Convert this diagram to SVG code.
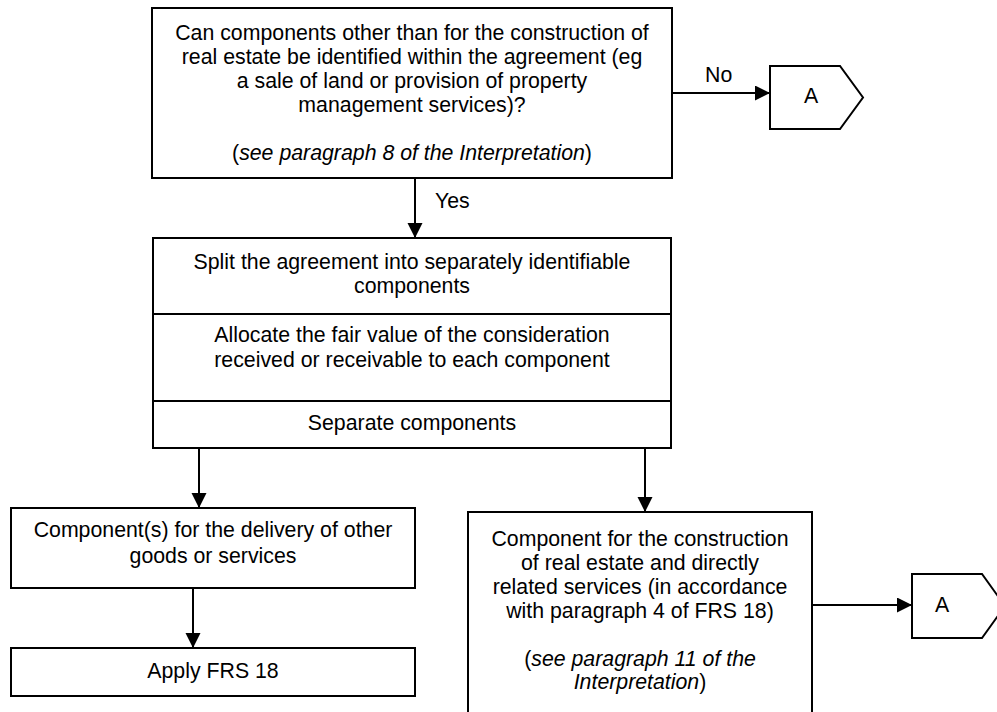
<svg xmlns="http://www.w3.org/2000/svg" width="997" height="712" viewBox="0 0 997 712">
<style>
.box{fill:#fff;stroke:#000;stroke-width:2}
.div{stroke:#000;stroke-width:2}
.t{font-family:"Liberation Sans",Arial,sans-serif;font-size:21.3px;fill:#000;text-anchor:middle}
.l{font-family:"Liberation Sans",Arial,sans-serif;font-size:21.3px;fill:#000}
.i{font-style:italic}
.c{stroke:#000;stroke-width:2;fill:none;marker-end:url(#ah)}
</style>
<defs>
<marker id="ah" markerUnits="userSpaceOnUse" markerWidth="16" markerHeight="16" refX="15" refY="7.5" orient="auto">
<path d="M0,0 L15,7.5 L0,15 z" fill="#000"/>
</marker>
</defs>
<rect width="997" height="712" fill="#fff"/>
<g id="connectors">
<line class="c" x1="415" y1="178" x2="415" y2="238"/>
<line class="c" x1="672" y1="93" x2="770" y2="93"/>
<line class="c" x1="199" y1="448" x2="199" y2="508"/>
<line class="c" x1="645" y1="448" x2="645" y2="512"/>
<line class="c" x1="193" y1="588" x2="193" y2="648"/>
<line class="c" x1="812" y1="605" x2="912" y2="605"/>
<text class="l" x="435" y="208">Yes</text>
<text class="l" x="705" y="82">No</text>
</g>
<g id="question">
<rect class="box" x="152" y="8" width="520" height="170"/>
<text class="t" x="412" y="40">Can components other than for the construction of</text>
<text class="t" x="412" y="64">real estate be identified within the agreement (eg</text>
<text class="t" x="412" y="88">a sale of land or provision of property</text>
<text class="t" x="412" y="112">management services)?</text>
<text class="t" x="412" y="160">(<tspan class="i">see paragraph 8 of the Interpretation</tspan>)</text>
</g>
<g id="connectorA1">
<polygon class="box" points="770,66 840,66 863,97.5 840,129 770,129"/>
<text class="t" x="811" y="103">A</text>
</g>
<g id="split">
<rect class="box" x="153" y="238" width="518" height="210"/>
<line class="div" x1="153" y1="314" x2="671" y2="314"/>
<line class="div" x1="153" y1="401" x2="671" y2="401"/>
<text class="t" x="412" y="269">Split the agreement into separately identifiable</text>
<text class="t" x="412" y="293">components</text>
<text class="t" x="412" y="342">Allocate the fair value of the consideration</text>
<text class="t" x="412" y="367">received or receivable to each component</text>
<text class="t" x="412" y="430">Separate components</text>
</g>
<g id="other">
<rect class="box" x="11" y="508" width="404" height="80"/>
<text class="t" x="213" y="537">Component(s) for the delivery of other</text>
<text class="t" x="213" y="563">goods or services</text>
</g>
<g id="apply">
<rect class="box" x="11" y="648" width="404" height="48"/>
<text class="t" x="213" y="678">Apply FRS 18</text>
</g>
<g id="construction">
<rect class="box" x="468" y="512" width="344" height="210"/>
<text class="t" x="640" y="546">Component for the construction</text>
<text class="t" x="640" y="570">of real estate and directly</text>
<text class="t" x="640" y="594">related services (in accordance</text>
<text class="t" x="640" y="618">with paragraph 4 of FRS 18)</text>
<text class="t" x="640" y="666">(<tspan class="i">see paragraph 11 of the</tspan></text>
<text class="t" x="640" y="689"><tspan class="i">Interpretation</tspan>)</text>
</g>
<g id="connectorA2">
<polygon class="box" points="912,574 982,574 1005,606 982,638 912,638"/>
<text class="t" x="942" y="612">A</text>
</g>
</svg>
